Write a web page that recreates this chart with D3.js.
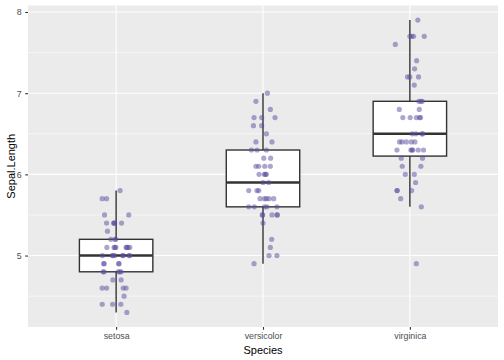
<!DOCTYPE html>
<html>
<head>
<meta charset="utf-8">
<script src="https://cdn.jsdelivr.net/npm/d3@7"></script>
<style>
  body { margin: 0; background: #fff; }
  svg { display: block; font-family: "Liberation Sans", Arial, sans-serif; }
</style>
</head>
<body>
<script>
// species on the x axis
const species = ["setosa", "versicolor", "virginica"]

// Sepal.Length values, one array per species (same order as the jitter arrays)
const setosaLength = [5.8, 5.7, 5.7, 5.5, 5.5, 5.4, 5.4, 5.4, 5.4, 5.4, 5.3, 5.2, 5.2, 5.2,
  5.1, 5.1, 5.1, 5.1, 5.1, 5.1, 5.1, 5.1, 5.0, 5.0, 5.0, 5.0, 5.0, 5.0, 5.0, 5.0,
  4.9, 4.9, 4.9, 4.9, 4.8, 4.8, 4.8, 4.8, 4.8, 4.7, 4.7, 4.6, 4.6, 4.6, 4.6, 4.5,
  4.4, 4.4, 4.4, 4.3]
const versicolorLength = [7.0, 6.9, 6.8, 6.7, 6.7, 6.7, 6.6, 6.6, 6.5, 6.4, 6.4, 6.3, 6.3, 6.3,
  6.2, 6.2, 6.1, 6.1, 6.1, 6.1, 6.0, 6.0, 6.0, 6.0, 5.9, 5.9, 5.8, 5.8, 5.8,
  5.7, 5.7, 5.7, 5.7, 5.7, 5.6, 5.6, 5.6, 5.6, 5.6, 5.5, 5.5, 5.5, 5.5, 5.5,
  5.4, 5.2, 5.1, 5.0, 5.0, 4.9]
const virginicaLength = [7.9, 7.7, 7.7, 7.7, 7.7, 7.6, 7.4, 7.3, 7.2, 7.2, 7.2, 7.1, 6.9, 6.9, 6.9,
  6.8, 6.8, 6.7, 6.7, 6.7, 6.7, 6.7, 6.5, 6.5, 6.5, 6.5, 6.4, 6.4, 6.4, 6.4, 6.4,
  6.3, 6.3, 6.3, 6.3, 6.3, 6.3, 6.2, 6.2, 6.1, 6.1, 6.0, 6.0, 5.9, 5.8, 5.8, 5.8,
  5.7, 5.6, 4.9]

// horizontal jitter, in hundredths of a category step
const setosaJitter = [2.7, -9.5, -6.5, -7.9, 8.6, -6.5, -1.7, -1.0, -1.4, 3.7, -5.9, -3.6, -0.7, -0.3,
  -6.3, -1.4, -0.2, 6.8, 7.3, 8.0, 9.3, -0.7, -9.3, -2.7, -2.0, -0.9, 4.4, 4.8, 9.3, 8.8,
  -8.4, -8.2, 2.0, 1.7, -8.8, -8.2, 1.4, 2.5, 3.4, -2.2, 3.4, -9.5, -6.5, 4.8, 6.8, 5.4,
  -9.5, -2.4, 3.2, 7.3]
const versicolorJitter = [3.0, -4.8, 5.0, -6.1, -0.9, 8.2, -6.5, -0.9, 2.3, -4.8, 6.1, -7.9, -4.1, 2.3,
  0.5, 5.2, -4.8, -2.9, 1.2, 5.0, -2.7, 0.9, 1.6, 2.3, 0, 3.9, -9.7, -4.1, -2.9,
  -2.0, 1.0, 2.3, 4.1, 7.3, -9.7, -5.9, 1.0, 2.7, 9.5, -0.5, -0.2, 6.1, 9.5, 9.8,
  0, 5.9, 5.0, 4.1, 9.5, -6.1]
const virginicaJitter = [5.4, 0, 1.2, 2.5, 9.8, -9.9, 4.6, 3.2, -1.6, 0, 5.9, 3.0, 6.1, 7.5, 8.4,
  -7.2, 6.4, -4.8, 0.2, 4.4, 6.6, 7.3, 1.6, 4.1, 8.2, 8.8, -7.0, -5.4, -2.4, 1.0, 3.4,
  -8.8, 0.7, 1.4, 2.0, 5.7, 9.3, -5.9, 8.6, -5.2, 7.5, -3.1, 3.0, 3.9, -8.8, -8.6, 1.2,
  -6.3, 7.8, 4.4]

const yTicks = [5, 6, 7, 8]
const yMinor = [4.5, 5.5, 6.5, 7.5]

const lengths = [setosaLength, versicolorLength, virginicaLength]
const jitters = [setosaJitter, versicolorJitter, virginicaJitter]

const w = 504
const h = 360
const margin = { top: 5.5, right: 6, bottom: 33, left: 28 }

const svg = d3.select("body")
  .append("svg")
  .attr("width", w)
  .attr("height", h)

// scales: categories at 1, 2, 3 with ggplot's 0.6 discrete expansion
const x = d3.scaleLinear()
  .domain([0.4, species.length + 0.6])
  .range([margin.left, w - margin.right])

const allY = lengths.flat()
const yLo = d3.min(allY), yHi = d3.max(allY)
const pad = (yHi - yLo) * 0.05
const y = d3.scaleLinear()
  .domain([yLo - pad, yHi + pad])
  .range([h - margin.bottom, margin.top])

// panel
svg.append("rect")
  .attr("x", x.range()[0])
  .attr("y", y.range()[1])
  .attr("width", x.range()[1] - x.range()[0])
  .attr("height", y.range()[0] - y.range()[1])
  .attr("fill", "#ebebeb")

// grid lines
svg.selectAll(".minor")
  .data(yMinor)
  .enter()
  .append("line")
  .attr("x1", x.range()[0])
  .attr("x2", x.range()[1])
  .attr("y1", d => y(d))
  .attr("y2", d => y(d))
  .attr("stroke", "#fff")
  .attr("stroke-width", 0.55)

svg.selectAll(".major")
  .data(yTicks)
  .enter()
  .append("line")
  .attr("x1", x.range()[0])
  .attr("x2", x.range()[1])
  .attr("y1", d => y(d))
  .attr("y2", d => y(d))
  .attr("stroke", "#fff")
  .attr("stroke-width", 1.1)

svg.selectAll(".vgrid")
  .data(species)
  .enter()
  .append("line")
  .attr("x1", (d, i) => x(i + 1))
  .attr("x2", (d, i) => x(i + 1))
  .attr("y1", y.range()[0])
  .attr("y2", y.range()[1])
  .attr("stroke", "#fff")
  .attr("stroke-width", 1.1)

// box stats (R type 7 quantiles, 1.5 IQR whiskers)
const stats = lengths.map((vals, i) => {
  const s = vals.slice().sort(d3.ascending)
  const q1 = d3.quantile(s, 0.25)
  const med = d3.quantile(s, 0.5)
  const q3 = d3.quantile(s, 0.75)
  const iqr = q3 - q1
  const lo = d3.min(s.filter(v => v >= q1 - 1.5 * iqr))
  const hi = d3.max(s.filter(v => v <= q3 + 1.5 * iqr))
  return { i: i + 1, q1, med, q3, lo, hi }
})

const boxW = 0.5
const boxes = svg.append("g")

boxes.selectAll(".whisker-up")
  .data(stats)
  .enter()
  .append("line")
  .attr("x1", d => x(d.i)).attr("x2", d => x(d.i))
  .attr("y1", d => y(d.q3)).attr("y2", d => y(d.hi))
  .attr("stroke", "#333").attr("stroke-width", 1.4)

boxes.selectAll(".whisker-down")
  .data(stats)
  .enter()
  .append("line")
  .attr("x1", d => x(d.i)).attr("x2", d => x(d.i))
  .attr("y1", d => y(d.q1)).attr("y2", d => y(d.lo))
  .attr("stroke", "#333").attr("stroke-width", 1.4)

boxes.selectAll("rect")
  .data(stats)
  .enter()
  .append("rect")
  .attr("x", d => x(d.i - boxW / 2))
  .attr("y", d => y(d.q3))
  .attr("width", d => x(d.i + boxW / 2) - x(d.i - boxW / 2))
  .attr("height", d => y(d.q1) - y(d.q3))
  .attr("fill", "#fff")
  .attr("stroke", "#333")
  .attr("stroke-width", 1.4)

boxes.selectAll(".median")
  .data(stats)
  .enter()
  .append("line")
  .attr("x1", d => x(d.i - boxW / 2))
  .attr("x2", d => x(d.i + boxW / 2))
  .attr("y1", d => y(d.med))
  .attr("y2", d => y(d.med))
  .attr("stroke", "#333")
  .attr("stroke-width", 2.6)

// jittered points
const points = []
lengths.forEach((vals, i) => {
  vals.forEach((v, j) => points.push({ x: i + 1 + jitters[i][j] / 100, y: v }))
})

svg.append("g")
  .selectAll("circle")
  .data(points)
  .enter()
  .append("circle")
  .attr("cx", d => x(d.x))
  .attr("cy", d => y(d.y))
  .attr("r", 2.6)
  .attr("fill", "#5a4ea0")
  .attr("fill-opacity", 0.5)

// axes
const xAxis = d3.axisBottom(x)
  .tickValues([1, 2, 3])
  .tickFormat(d => species[d - 1])
  .tickSize(2.75)
  .tickPadding(3.5)

const gx = svg.append("g")
  .attr("transform", "translate(0," + y.range()[0] + ")")
  .call(xAxis)
gx.select(".domain").remove()
gx.selectAll("line").attr("stroke", "#333").attr("stroke-width", 1.1)
gx.selectAll("text").attr("fill", "#4d4d4d").attr("font-size", "8.8px")

const yAxis = d3.axisLeft(y)
  .tickValues(yTicks)
  .tickFormat(d3.format("d"))
  .tickSize(2.75)
  .tickPadding(3.5)

const gy = svg.append("g")
  .attr("transform", "translate(" + x.range()[0] + ",0)")
  .call(yAxis)
gy.select(".domain").remove()
gy.selectAll("line").attr("stroke", "#333").attr("stroke-width", 1.1)
gy.selectAll("text").attr("fill", "#4d4d4d").attr("font-size", "8.8px")

// axis titles
svg.append("text")
  .attr("x", (x.range()[0] + x.range()[1]) / 2)
  .attr("y", h - 6.5)
  .attr("text-anchor", "middle")
  .attr("font-size", "11px")
  .attr("fill", "#000")
  .text("Species")

svg.append("text")
  .attr("transform", "translate(14.5," + (y.range()[0] + y.range()[1]) / 2 + ") rotate(-90)")
  .attr("text-anchor", "middle")
  .attr("font-size", "11px")
  .attr("fill", "#000")
  .text("Sepal.Length")
</script>
</body>
</html>
